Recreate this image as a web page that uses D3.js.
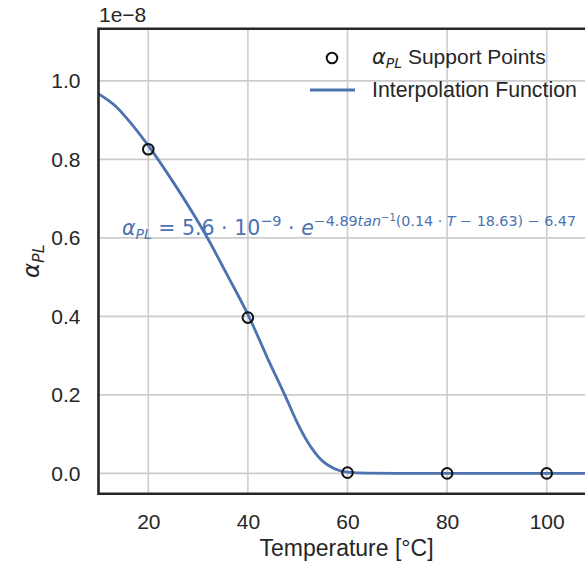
<!DOCTYPE html>
<html>
<head>
<meta charset="utf-8">
<script src="https://cdn.jsdelivr.net/npm/d3@7"></script>
<style>
  html, body { margin: 0; padding: 0; background: #fff; }
  svg { display: block; }
</style>
</head>
<body>
<svg id="chart"></svg>
<script>
// support points (values in units of 1e-8)
const supportT = [20, 40, 60, 80, 100];
const supportAlpha = [0.826, 0.397, 0.002, 0.0, 0.0];

// interpolation function
const curveT = [10, 13.5, 16.2, 20, 24.9, 28.9, 31.6, 36, 40.3, 44, 47.4, 50, 52, 54.7, 57.4, 60, 64, 70, 80, 90, 100, 110];
const curveAlpha = [0.967, 0.935, 0.897, 0.835, 0.744, 0.664, 0.606, 0.502, 0.397, 0.292, 0.200, 0.127, 0.080, 0.035, 0.012, 0.003, 0.0005, 0, 0, 0, 0, 0];

const xTicks = [20, 40, 60, 80, 100];
const yTicks = [0, 0.2, 0.4, 0.6, 0.8, 1.0];

const width = 585, height = 564;
const pLeft = 98.5, pRight = 596.5, pTop = 28.7, pBottom = 493.7;
const blue = "#4c72b0", ink = "#262626";
const font = "'Liberation Sans', Arial, sans-serif";
const mathFont = "'DejaVu Sans', sans-serif";

const svg = d3.select("#chart")
  .attr("width", width)
  .attr("height", height)
  .attr("font-family", font);

const x = d3.scaleLinear().domain([10, 110]).range([pLeft, pRight]);
const y = d3.scaleLinear().domain([-0.0517, 1.133]).range([pBottom, pTop]);

svg.append("clipPath").attr("id", "plot")
  .append("rect")
  .attr("x", pLeft).attr("y", pTop)
  .attr("width", pRight - pLeft).attr("height", pBottom - pTop);

// grid
const grid = svg.append("g").attr("stroke", "#cccccc").attr("stroke-width", 1.6);
grid.selectAll(".gx").data(xTicks).join("line").attr("class", "gx")
  .attr("x1", d => x(d)).attr("x2", d => x(d))
  .attr("y1", pTop).attr("y2", pBottom);
grid.selectAll(".gy").data(yTicks).join("line").attr("class", "gy")
  .attr("x1", pLeft).attr("x2", pRight)
  .attr("y1", d => y(d)).attr("y2", d => y(d));

// axes (labels only, spines drawn separately)
const xAxis = svg.append("g")
  .attr("transform", `translate(0,${pBottom})`)
  .call(d3.axisBottom(x).tickValues(xTicks).tickSize(0).tickPadding(20));
const yAxis = svg.append("g")
  .attr("transform", `translate(${pLeft},0)`)
  .call(d3.axisLeft(y).tickValues(yTicks).tickFormat(d3.format(".1f")).tickSize(0).tickPadding(18));
[xAxis, yAxis].forEach(a => {
  a.select(".domain").remove();
  a.selectAll("text").attr("font-family", font).attr("font-size", 21).attr("fill", ink);
});

// interpolation curve
const line = d3.line()
  .x((d, i) => x(curveT[i]))
  .y(d => y(d))
  .curve(d3.curveMonotoneX);

svg.append("path")
  .datum(curveAlpha)
  .attr("clip-path", "url(#plot)")
  .attr("fill", "none")
  .attr("stroke", blue)
  .attr("stroke-width", 2.8)
  .attr("d", line);

// support points
svg.append("g").selectAll("circle")
  .data(supportAlpha)
  .join("circle")
  .attr("cx", (d, i) => x(supportT[i]))
  .attr("cy", d => y(d))
  .attr("r", 5.3)
  .attr("fill", "none")
  .attr("stroke", "#111")
  .attr("stroke-width", 2);

// spines
const spines = svg.append("g").attr("stroke", ink).attr("stroke-width", 2.6);
spines.append("line").attr("x1", pLeft).attr("x2", pLeft).attr("y1", pTop - 1.3).attr("y2", pBottom + 1.3);
spines.append("line").attr("x1", pLeft).attr("x2", pRight).attr("y1", pTop).attr("y2", pTop);
spines.append("line").attr("x1", pLeft).attr("x2", pRight).attr("y1", pBottom).attr("y2", pBottom);

// offset text
svg.append("text")
  .attr("x", 99).attr("y", 22)
  .attr("font-size", 21).attr("fill", ink)
  .text("1e\u22128");

// axis labels
svg.append("text")
  .attr("x", (pLeft + pRight) / 2 - 1).attr("y", 556)
  .attr("text-anchor", "middle")
  .attr("font-size", 23).attr("fill", ink)
  .text("Temperature [°C]");

const yl = svg.append("text")
  .attr("transform", `translate(39,${(pTop + pBottom) / 2}) rotate(-90)`)
  .attr("text-anchor", "middle")
  .attr("font-family", mathFont)
  .attr("fill", ink);
yl.append("tspan").attr("font-size", 23).attr("font-style", "italic").text("α");
yl.append("tspan").attr("font-size", 16).attr("font-style", "italic").attr("dy", 5).text("PL");

// legend
const legend = svg.append("g");
legend.append("circle")
  .attr("cx", 332).attr("cy", 58)
  .attr("r", 5.3)
  .attr("fill", "none").attr("stroke", "#111").attr("stroke-width", 2);
const l1 = legend.append("text").attr("x", 372).attr("y", 64).attr("fill", ink);
l1.append("tspan").attr("font-family", mathFont).attr("font-style", "italic").attr("font-size", 21).text("α");
l1.append("tspan").attr("font-family", mathFont).attr("font-style", "italic").attr("font-size", 14).attr("dy", 4).text("PL");
l1.append("tspan").attr("font-size", 21).attr("dy", -4).text(" Support Points");
legend.append("line")
  .attr("x1", 310).attr("x2", 355).attr("y1", 90).attr("y2", 90)
  .attr("stroke", blue).attr("stroke-width", 2.8);
legend.append("text")
  .attr("x", 372).attr("y", 97)
  .attr("font-size", 21.3).attr("fill", ink)
  .text("Interpolation Function");

// equation annotation
const eq = svg.append("text")
  .attr("x", 122).attr("y", 235)
  .attr("font-family", mathFont)
  .attr("fill", blue)
  .attr("font-size", 20.5);
eq.append("tspan").attr("font-style", "italic").text("α");
eq.append("tspan").attr("font-style", "italic").attr("font-size", 14).attr("dy", 4).text("PL");
eq.append("tspan").attr("dy", -4).text(" = 5.6 · 10");
eq.append("tspan").attr("font-size", 14.5).attr("dy", -9).text("−9");
eq.append("tspan").attr("dy", 9).text(" · ");
eq.append("tspan").attr("font-style", "italic").text("e");
eq.append("tspan").attr("font-size", 14.3).attr("dy", -9).text("−4.89");
eq.append("tspan").attr("font-size", 14.3).attr("font-style", "italic").text("tan");
eq.append("tspan").attr("font-size", 10).attr("dy", -5).text("−1");
eq.append("tspan").attr("font-size", 14.3).attr("dy", 5).text("(0.14 · ");
eq.append("tspan").attr("font-size", 14.3).attr("font-style", "italic").text("T");
eq.append("tspan").attr("font-size", 14.3).text(" − 18.63) − 6.47");
</script>
</body>
</html>
